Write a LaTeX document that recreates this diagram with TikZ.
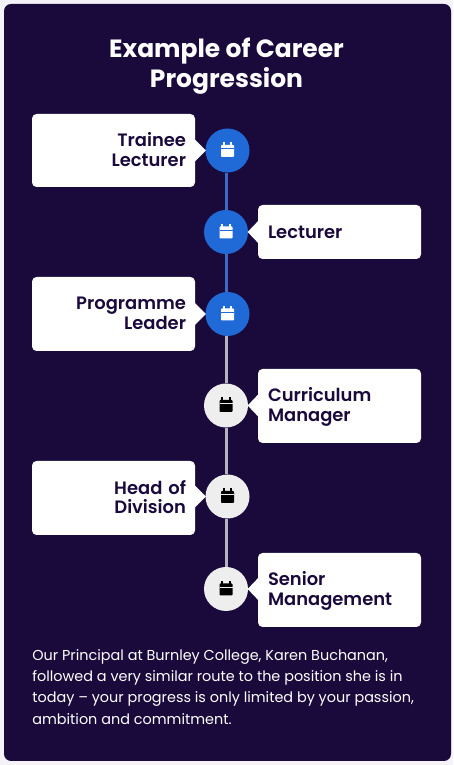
\documentclass[tikz,border=0pt]{standalone}
\usepackage{fontspec}
\setmainfont{Poppins}
\newfontfamily\semifont{Poppins SemiBold}
\usetikzlibrary{calc}
\definecolor{CPPage}{HTML}{F5F3F9}
\definecolor{CPNavy}{HTML}{1A0A3C}
\definecolor{CPBlue}{HTML}{206AD8}
\definecolor{CPGrey}{HTML}{EEEEEE}
\definecolor{CPLineBlue}{HTML}{3A6CC6}
\definecolor{CPLineGrey}{HTML}{B6B2BE}
\tikzset{
  rolebox/.style={fill=white,rounded corners=2.6pt,minimum width=3.26cm,inner sep=0pt,text=CPNavy,
    font=\semifont\fontsize{10.2}{11.3}\selectfont},
  roleleft/.style={rolebox,align=right,text width=2.90cm,execute at end node=\rule[-1.1pt]{0pt}{1.1pt}},
  roleright/.style={rolebox,align=left,text width=2.86cm},
  rolelow/.style={roleright,execute at begin node=\rule{0pt}{8.7pt}},
  stepdot/.style={circle,minimum size=0.88cm,inner sep=0pt},
  stepdone/.style={stepdot,fill=CPBlue},
  steptodo/.style={stepdot,fill=CPGrey},
  linedone/.style={CPLineBlue,line width=0.06cm},
  linetodo/.style={CPLineGrey,line width=0.06cm},
}
\begin{document}
\begin{tikzpicture}[x=1cm,y=1cm]
\path[use as bounding box,fill=CPPage] (0,0) rectangle (9.06,15.30);
\fill[CPNavy,rounded corners=4pt] (0.08,0.08) rectangle (9.02,15.22);
\node[text=white,align=center,inner sep=0pt,font=\bfseries\fontsize{14.2}{17}\selectfont] (title) at (4.53,13.98) {Example of Career\\Progression};
% boxes
\node[roleleft,minimum height=1.46cm] (b1) at (2.27,12.29) {Trainee\\Lecturer};
\node[roleright,minimum height=1.08cm] (b2) at (6.79,10.66) {Lecturer};
\node[roleleft,minimum height=1.48cm] (b3) at (2.27,9.02) {Programme\\Leader};
\node[rolelow,minimum height=1.48cm] (b4) at (6.79,7.18) {Curriculum\\Manager};
\node[roleleft,minimum height=1.48cm] (b5) at (2.27,5.34) {Head of\\Division};
\node[rolelow,minimum height=1.48cm] (b6) at (6.79,3.50) {Senior\\Management};
% circles
\node[stepdone] (c1) at (4.55,12.29) {};
\node[stepdone] (c2) at (4.52,10.66) {};
\node[stepdone] (c3) at (4.55,9.02) {};
\node[steptodo] (c4) at (4.52,7.19) {};
\node[steptodo] (c5) at (4.55,5.37) {};
\node[steptodo] (c6) at (4.52,3.52) {};
% timeline
\coordinate (spine) at (4.535,0);
\draw[linedone] (spine|-c1.south) -- (spine|-c2.north);
\draw[linedone] (spine|-c2.south) -- (spine|-c3.north);
\draw[linetodo] (spine|-c3.south) -- (spine|-c4.north);
\draw[linetodo] (spine|-c4.south) -- (spine|-c5.north);
\draw[linetodo] (spine|-c5.south) -- (spine|-c6.north);
% pointers
\foreach \b/\c in {b1/c1,b3/c3,b5/c5}
  \fill[white] ($(\b.east|-\c)+(-0.01,0.22)$) -- ($(\b.east|-\c)+(0.21,0)$) -- ($(\b.east|-\c)+(-0.01,-0.22)$) -- cycle;
\foreach \b/\c in {b2/c2,b4/c4,b6/c6}
  \fill[white] ($(\b.west|-\c)+(0.01,0.22)$) -- ($(\b.west|-\c)+(-0.20,0)$) -- ($(\b.west|-\c)+(0.01,-0.22)$) -- cycle;
% calendar icons
\foreach \c/\i/\d in {c1/white/CPBlue,c2/white/CPBlue,c3/white/CPBlue,c4/black/CPGrey,c5/black/CPGrey,c6/black/CPGrey}{
  \begin{scope}[shift={(\c)}]
  \fill[\i,rounded corners=0.5pt] (-0.13,0.11) rectangle (0.13,-0.13);
  \fill[\i] (-0.095,0.16) rectangle (-0.055,0.10);
  \fill[\i] (0.055,0.16) rectangle (0.095,0.10);
  \fill[\d] (-0.13,0.045) rectangle (0.13,0.025);
  \end{scope}
}
\node[anchor=north west,text=white,align=left,inner sep=0pt,font=\fontsize{8.2}{12.1}\selectfont] (note) at (0.64,2.32) {Our Principal at Burnley College, Karen Buchanan,\\followed a very similar route to the position she is in\\today -- your progress is only limited by your passion,\\ambition and commitment.};
\end{tikzpicture}
\end{document}
